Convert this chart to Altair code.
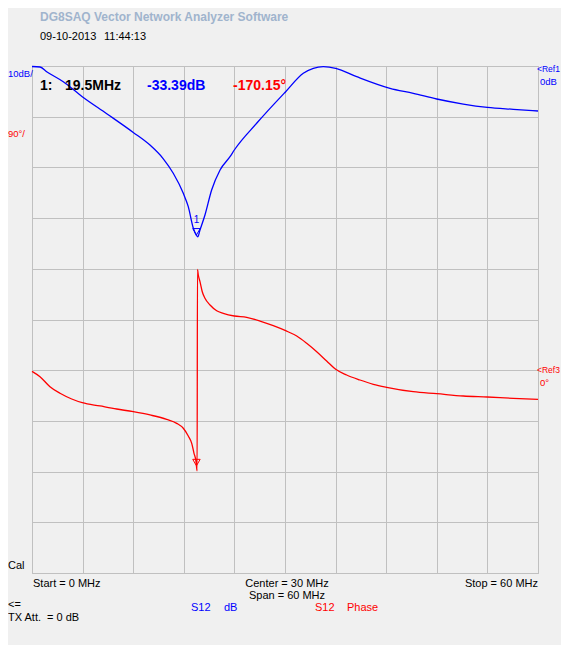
import altair as alt
import pandas as pd

# ---- trace data ----
freq_db = [0, 0.95, 1.74, 3.71, 5.96, 8.86, 12.01, 13.99, 15.57, 16.75,
           17.94, 18.53, 19.13, 19.5, 19.65, 19.92, 20.51, 21.3, 22.3, 23.48,
           23.99, 26.64, 30.08, 32.17, 33.36, 34.54, 36.01, 38.5, 42.45, 45.21,
           47.99, 51.14, 53.99, 57.07, 60]
s12_db = [-0.1, -0.2, -1.12, -3.1, -6.06, -9.4, -13.1, -15.6, -18.3, -21.16,
          -25.11, -27.75, -32.01, -33.39, -33.7, -32.35, -29.39, -24.46, -20.5, -17.89,
          -16.57, -11.3, -5.07, -1.44, -0.45, -0.14, -0.45, -2.11, -4.4, -5.38,
          -6.51, -7.5, -8.15, -8.54, -8.88]

freq_ph = [0, 0.95, 2.13, 3.32, 4.71, 5.96, 8.06, 10.04, 12.01, 13.99,
           15.97, 17.16, 17.94, 18.53, 18.94, 19.21, 19.45, 19.5, 19.58, 19.62,
           19.72, 19.92, 20.19, 20.51, 21.11, 21.9, 22.68, 23.99, 25.46, 27.04,
           28.61, 30.08, 31.39, 32.57, 33.76, 34.94, 36.01, 37.31, 38.89, 40.47,
           42.06, 45.21, 47.99, 51.14, 53.99, 57.07, 60]
s12_phase = [-2.0, -11.5, -29.3, -41.0, -51.1, -57.7, -63.5, -68.9, -73.7, -79.5,
             -87.2, -94.3, -103.1, -116.8, -129.8, -147.5, -162.4, -170.15, -178.8, 179.0,
             169.0, 157.1, 139.3, 127.6, 115.7, 105.6, 101.0, 96.2, 93.9, 87.3,
             79.0, 70.1, 60.7, 47.8, 32.8, 16.3, 1.6, -8.5, -17.4, -25.0,
             -30.4, -38.2, -41.7, -45.8, -47.6, -49.9, -51.7]

marker_freq = [19.5]
marker_db = [-33.39]
marker_phase = [-170.15]
marker_name = ["1"]

grid_freq = [0, 6, 12, 18, 24, 30, 36, 42, 48, 54, 60]
grid_db = [-100, -90, -80, -70, -60, -50, -40, -30, -20, -10, 0]

# ---- texts ----
app_title = "DG8SAQ Vector Network Analyzer Software"
timestamp = ["09-10-2013", "11:44:13"]
readout = ["1:", "19.5MHz", "-33.39dB", "-170.15°"]
scale_labels = ["10dB/", "90°/"]
ref_labels = ["<Ref1", "0dB", "<Ref3", "0°"]
freq_labels = ["Start = 0 MHz", "Center = 30 MHz", "Span = 60 MHz", "Stop = 60 MHz"]
status_labels = ["Cal", "<=", "TX Att.", "= 0 dB"]
legend_labels = ["S12", "dB", "S12", "Phase"]

BLUE = "#0000FF"
RED = "#FF0000"
GRID = "#C0C0C0"
FONT = "Liberation Sans"

x_enc = alt.X("f:Q", scale=alt.Scale(domain=[0, 60], nice=False, zero=False),
              axis=alt.Axis(values=grid_freq, grid=True, labels=False, ticks=False,
                            domain=False, title=None, gridColor=GRID, gridWidth=1,
                            gridOpacity=1))
db_scale = alt.Scale(domain=[-100, 0], nice=False, zero=False)
ph_scale = alt.Scale(domain=[-360, 540], nice=False, zero=False)

db_df = pd.DataFrame({"f": freq_db, "v": s12_db})
ph_df = pd.DataFrame({"f": freq_ph, "v": s12_phase})
mk_db_df = pd.DataFrame({"f": marker_freq, "v": marker_db, "n": marker_name})
mk_ph_df = pd.DataFrame({"f": marker_freq, "v": marker_phase, "n": marker_name})

db_line = alt.Chart(db_df).mark_line(color=BLUE, strokeWidth=1.3, clip=False,
                                     interpolate="monotone").encode(
    x=x_enc,
    y=alt.Y("v:Q", scale=db_scale,
            axis=alt.Axis(values=grid_db, grid=True, labels=False, ticks=False,
                          domain=False, title=None, gridColor=GRID, gridWidth=1,
                          gridOpacity=1)),
)
db_mark = alt.Chart(mk_db_df).mark_point(shape="triangle-down", filled=False, size=55,
                                         color=BLUE, strokeWidth=1, yOffset=-3.5,
                                         opacity=1).encode(
    x=x_enc, y=alt.Y("v:Q", scale=db_scale, axis=None))
db_mark_txt = alt.Chart(mk_db_df).mark_text(color=BLUE, font=FONT, fontSize=10, dy=-12,
                                            baseline="alphabetic", align="center").encode(
    x=x_enc, y=alt.Y("v:Q", scale=db_scale, axis=None), text="n:N")

ph_line = alt.Chart(ph_df).mark_line(color=RED, strokeWidth=1.3, clip=False,
                                     interpolate="monotone").encode(
    x=x_enc, y=alt.Y("v:Q", scale=ph_scale, axis=None))
ph_mark = alt.Chart(mk_ph_df).mark_point(shape="triangle-down", filled=False, size=55,
                                         color=RED, strokeWidth=1, yOffset=-3.5,
                                         opacity=1).encode(
    x=x_enc, y=alt.Y("v:Q", scale=ph_scale, axis=None))


def label(txt, x, y, color="black", size=11, bold=False, align="left"):
    return alt.Chart(pd.DataFrame({"t": [txt]})).mark_text(
        align=align, baseline="alphabetic", font=FONT, fontSize=size,
        fontWeight="bold" if bold else "normal", color=color,
    ).encode(x=alt.value(x), y=alt.value(y), text="t:N")


texts = [
    label(app_title, 8, -45, color="#A0B4CD", size=12, bold=True),
    label(timestamp[0], 8, -26),
    label(timestamp[1], 72, -26),
    label(readout[0], 8, 24, size=14, bold=True),
    label(readout[1], 33, 24, size=14, bold=True),
    label(readout[2], 115, 24, color=BLUE, size=14, bold=True),
    label(readout[3], 201, 24, color=RED, size=14, bold=True),
    label(scale_labels[0], -24, 11, color=BLUE, size=9.5),
    label(scale_labels[1], -24, 71, color=RED, size=9.5),
    label(ref_labels[0], 505, 6, color=BLUE, size=8.5),
    label(ref_labels[1], 508, 19, color=BLUE, size=9.5),
    label(ref_labels[2], 505, 307, color=RED, size=8.5),
    label(ref_labels[3], 508, 320, color=RED, size=9.5),
    label(freq_labels[0], 1, 521),
    label(freq_labels[1], 255, 521, align="center"),
    label(freq_labels[2], 255, 533, align="center"),
    label(freq_labels[3], 506, 521, align="right"),
    label(status_labels[0], -24, 503),
    label(status_labels[1], -24, 542),
    label(status_labels[2], -24, 555),
    label(status_labels[3], 15, 555),
    label(legend_labels[0], 159, 545, color=BLUE),
    label(legend_labels[1], 192, 545, color=BLUE),
    label(legend_labels[2], 283, 545, color=RED),
    label(legend_labels[3], 315, 545, color=RED),
]

chart = alt.layer(db_line, db_mark, db_mark_txt, ph_line, ph_mark, *texts).resolve_scale(
    y="independent"
).properties(
    width=506,
    height=507,
    autosize=alt.AutoSizeParams(type="none"),
    padding={"left": 24, "top": 58, "right": 23, "bottom": 72},
    background="#F0F0F0",
).configure_view(
    stroke=GRID, strokeWidth=1, fill="#F0F0F0"
)

chart.save("out.html", embed_options={"renderer": "svg", "actions": False})
